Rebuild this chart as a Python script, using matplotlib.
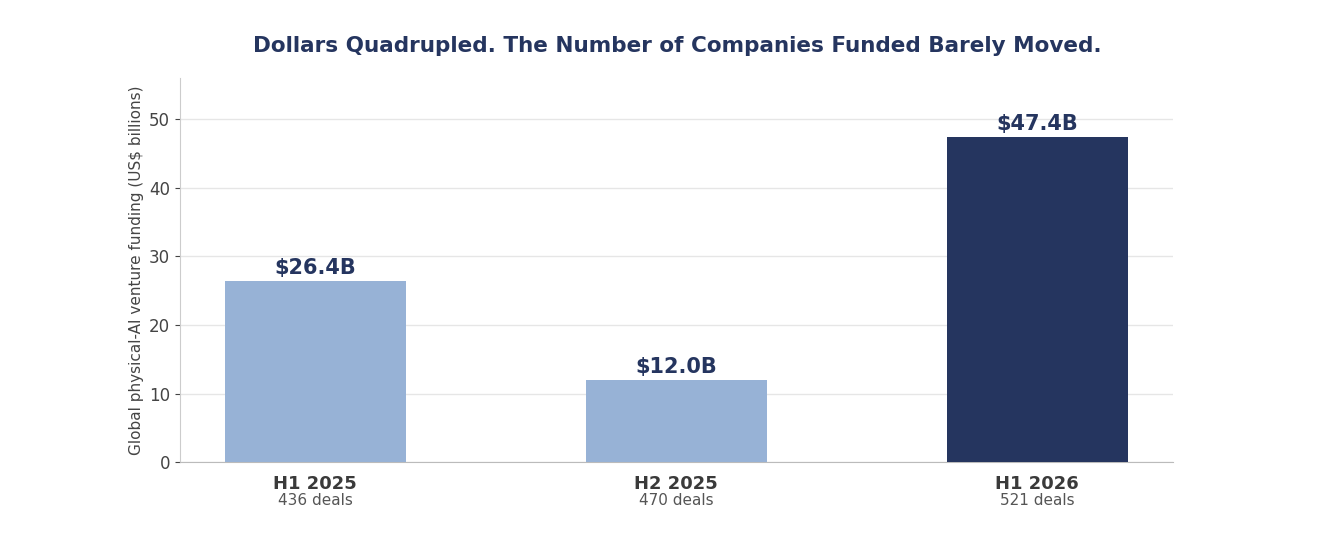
import matplotlib.pyplot as plt
from matplotlib.transforms import blended_transform_factory

periods = ["H1 2025", "H2 2025", "H1 2026"]
funding = [26.4, 12.0, 47.4]
deals = [436, 470, 521]
bar_colors = ["#97b2d6", "#97b2d6", "#25355f"]

navy = "#25355f"

fig = plt.figure(figsize=(13.28, 5.36), dpi=100)
ax = fig.add_axes([0.1355, 0.138, 0.7475, 0.716])

x = list(range(len(periods)))
ax.bar(x, funding, width=0.5, color=bar_colors, zorder=3)
for xi, v in zip(x, funding):
    ax.text(xi, v + 0.4, f"${v:.1f}B", ha="center", va="bottom",
            fontsize=15, fontweight="bold", color=navy)

ax.set_xlim(-0.375, 2.375)
ax.set_ylim(0, 56)
ax.set_yticks([0, 10, 20, 30, 40, 50])
ax.tick_params(axis="y", labelsize=12, colors="#444444")
ax.tick_params(axis="x", length=0)
ax.set_xticks(x)
ax.set_xticklabels([""] * len(x))

trans = blended_transform_factory(ax.transData, ax.transAxes)
for xi, p, d in zip(x, periods, deals):
    ax.text(xi, -0.035, p, transform=trans, ha="center", va="top",
            fontsize=13, fontweight="bold", color="#3a3a3a")
    ax.text(xi, -0.08, f"{d} deals", transform=trans, ha="center", va="top",
            fontsize=11, color="#555555")

ax.grid(axis="y", color="#e6e6e6", linewidth=1, zorder=0)
for s in ["top", "right"]:
    ax.spines[s].set_visible(False)
ax.spines["left"].set_color("#cccccc")
ax.spines["bottom"].set_color("#bbbbbb")
ax.set_ylabel("Global physical-AI venture funding (US$ billions)",
              fontsize=11, color="#444444")

fig.text(0.51, 0.915, "Dollars Quadrupled. The Number of Companies Funded Barely Moved.",
         ha="center", va="center", fontsize=15.5, fontweight="bold", color=navy)

fig.savefig("out.png", dpi=100, facecolor="white")
